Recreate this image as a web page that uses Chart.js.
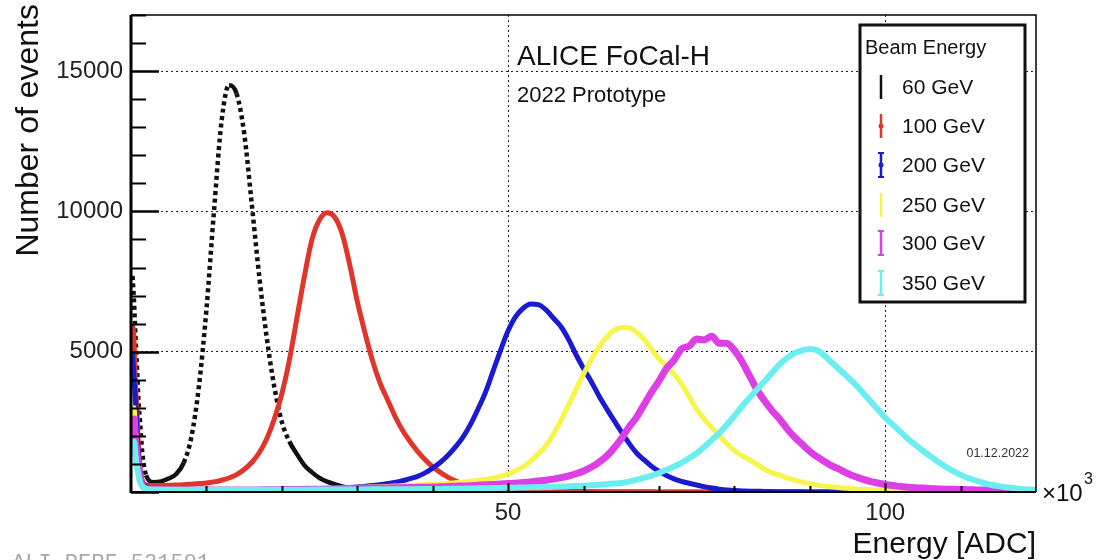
<!DOCTYPE html>
<html>
<head>
<meta charset="utf-8">
<script src="https://cdn.jsdelivr.net/npm/chart.js@4.4.1/dist/chart.umd.min.js"></script>
<style>
  html, body { margin: 0; padding: 0; background: #fff; }
  #wrap { position: relative; width: 1096px; height: 560px; }
  canvas { display: block; }
</style>
</head>
<body>
<div id="wrap"><canvas id="c" width="1096" height="560"></canvas></div>
<script>
// Bin centres, energy in units of 10^3 ADC counts
const energy = [
  0.2, 0.4, 0.6, 0.8, 1.0, 1.2, 1.5,
  2, 3, 4, 5, 6, 7, 8, 9,
  10, 11, 12, 13, 14, 15, 16, 17, 18, 19,
  20, 21, 22, 23, 24, 25, 26, 27, 28, 29,
  30, 31, 32, 33, 34, 35, 36, 37, 38, 39,
  40, 41, 42, 43, 44, 45, 46, 47, 48, 49,
  50, 51, 52, 53, 54, 55, 56, 57, 58, 59,
  60, 61, 62, 63, 64, 65, 66, 67, 68, 69,
  70, 71, 72, 73, 74, 75, 76, 77, 78, 79,
  80, 81, 82, 83, 84, 85, 86, 87, 88, 89,
  90, 91, 92, 93, 94, 95, 96, 97, 98, 99,
  100, 101, 102, 103, 104, 105, 106, 107, 108, 109,
  110, 111, 112, 113, 114, 115, 116, 117, 118, 119,
  120
];

// Events per bin for each beam energy
const ev60 = [
  7700, 6800, 5500, 4400, 3200, 2500, 1400,
  600, 350, 380, 480, 640, 1050, 1950, 3750,
  6500, 10000, 13200, 14500, 14200, 12800, 10300, 7700, 5500, 3750,
  2500, 1800, 1350, 950, 700, 500, 370, 280, 200, 150,
  100, 70, 50, 40, 30, 25, 20, 15, 10, 10,
  5, 5, 5, 5, 0, 0, 0, 0, 0, 0,
  0, 0, 0, 0, 0, 0, 0, 0, 0, 0,
  0, 0, 0, 0, 0, 0, 0, 0, 0, 0,
  0, 0, 0, 0, 0, 0, 0, 0, 0, 0,
  0, 0, 0, 0, 0, 0, 0, 0, 0, 0,
  0, 0, 0, 0, 0, 0, 0, 0, 0, 0,
  0, 0, 0, 0, 0, 0, 0, 0, 0, 0,
  0, 0, 0, 0, 0, 0, 0, 0, 0, 0,
  0
];
const ev100 = [
  6000, 5400, 3800, 2900, 1500, 800, 400,
  250, 230, 230, 240, 250, 260, 280, 300,
  320, 360, 420, 500, 620, 800, 1050, 1400, 1900, 2600,
  3500, 4700, 6200, 7700, 9000, 9700, 9950, 9800, 9200, 8100,
  6800, 5700, 4700, 3900, 3300, 2700, 2200, 1800, 1450, 1150,
  900, 700, 530, 400, 300, 230, 180, 140, 120, 100,
  90, 80, 70, 60, 50, 40, 30, 30, 20, 20,
  15, 15, 10, 10, 10, 10, 10, 5, 5, 5,
  0, 0, 0, 0, 0, 0, 0, 0, 0, 0,
  0, 0, 0, 0, 0, 0, 0, 0, 0, 0,
  0, 0, 0, 0, 0, 0, 0, 0, 0, 0,
  0, 0, 0, 0, 0, 0, 0, 0, 0, 0,
  0, 0, 0, 0, 0, 0, 0, 0, 0, 0,
  0
];
const ev200 = [
  5000, 4100, 3200, 2100, 1300, 700, 350,
  180, 110, 90, 80, 70, 70, 70, 70,
  70, 70, 70, 70, 70, 70, 75, 75, 80, 80,
  85, 90, 95, 100, 105, 110, 120, 130, 140, 160,
  180, 200, 230, 260, 300, 340, 400, 480, 560, 680,
  850, 1050, 1300, 1600, 1950, 2400, 2950, 3550, 4300, 5050,
  5750, 6250, 6550, 6700, 6680, 6500, 6200, 5900, 5450, 4900,
  4400, 3950, 3450, 3000, 2570, 2150, 1750, 1400, 1150, 920,
  740, 590, 470, 380, 310, 250, 190, 140, 100, 70,
  50, 40, 30, 25, 20, 15, 10, 10, 5, 5,
  0, 0, 0, 0, 0, 0, 0, 0, 0, 0,
  0, 0, 0, 0, 0, 0, 0, 0, 0, 0,
  0, 0, 0, 0, 0, 0, 0, 0, 0, 0,
  0
];
const ev250 = [
  2600, 3000, 2200, 1500, 1000, 600, 300,
  130, 90, 80, 70, 70, 70, 70, 70,
  70, 70, 70, 70, 70, 75, 75, 80, 80, 85,
  90, 95, 100, 105, 110, 115, 120, 130, 140, 150,
  160, 170, 180, 190, 200, 210, 220, 235, 250, 265,
  280, 295, 310, 330, 350, 380, 410, 450, 500, 560,
  640, 760, 900, 1100, 1350, 1650, 2050, 2550, 3100, 3650,
  4200, 4700, 5150, 5500, 5750, 5850, 5850, 5700, 5450, 5100,
  4750, 4500, 4200, 3850, 3400, 2950, 2600, 2300, 2000, 1720,
  1480, 1300, 1150, 980, 820, 680, 600, 500, 420, 350,
  290, 250, 210, 180, 150, 130, 110, 95, 85, 75,
  70, 65, 60, 55, 50, 45, 40, 35, 30, 30,
  25, 25, 20, 20, 20, 15, 15, 15, 10, 10,
  10
];
const ev300 = [
  2000, 2600, 1800, 1300, 900, 500, 250,
  120, 90, 80, 75, 70, 70, 70, 70,
  70, 70, 70, 70, 70, 70, 75, 75, 80, 80,
  85, 90, 90, 95, 100, 100, 105, 110, 115, 120,
  125, 130, 135, 140, 145, 150, 155, 160, 165, 170,
  175, 185, 195, 205, 215, 225, 240, 255, 270, 285,
  300, 315, 335, 360, 390, 420, 460, 510, 570, 650,
  750, 880, 1050, 1260, 1550, 1900, 2300, 2650, 3100, 3550,
  3950, 4400, 4700, 5100, 5200, 5450, 5420, 5550, 5300, 5300,
  5050, 4650, 4150, 3650, 3250, 2900, 2600, 2250, 1950, 1700,
  1450, 1250, 1080, 920, 800, 660, 550, 460, 380, 320,
  270, 230, 200, 170, 150, 140, 120, 110, 100, 95,
  90, 80, 75, 70, 65, 60, 55, 50, 45, 40,
  40
];
const ev350 = [
  1500, 1800, 1300, 900, 600, 350, 200,
  110, 90, 80, 80, 80, 80, 80, 80,
  80, 80, 80, 80, 80, 80, 80, 80, 80, 80,
  80, 80, 80, 80, 85, 85, 85, 85, 90, 90,
  90, 90, 95, 95, 95, 100, 100, 100, 105, 105,
  110, 110, 115, 115, 120, 125, 130, 135, 140, 145,
  150, 155, 160, 165, 170, 175, 185, 195, 205, 215,
  225, 240, 260, 280, 300, 320, 370, 430, 500, 580,
  680, 790, 910, 1040, 1200, 1380, 1600, 1850, 2100, 2400,
  2700, 3050, 3350, 3650, 3950, 4250, 4550, 4780, 4950, 5050,
  5100, 5050, 4850, 4600, 4350, 4100, 3850, 3550, 3250, 2950,
  2650, 2400, 2150, 1900, 1680, 1470, 1270, 1080, 900, 750,
  610, 500, 410, 330, 260, 210, 170, 140, 110, 90,
  80
];

const beamLabels = ['60 GeV', '100 GeV', '200 GeV', '250 GeV', '300 GeV', '350 GeV'];
const beamSeries = [ev60, ev100, ev200, ev250, ev300, ev350];
const beamColours = ['#111111', '#e0352b', '#1a1ad0', '#f5f54a', '#dd3fe4', '#6aeef0'];
const beamWidths = [4.5, 5, 5, 5, 7, 6];

const yTickValues = [5000, 10000, 15000];
const xTickValues = [50, 100];

const FONT = '"Liberation Sans", Arial, Helvetica, sans-serif';

const datasets = beamSeries.map((vals, i) => ({
  label: beamLabels[i],
  data: vals.map((v, k) => ({ x: energy[k], y: v })),
  borderColor: beamColours[i],
  backgroundColor: beamColours[i],
  borderWidth: beamWidths[i],
  pointRadius: 0,
  cubicInterpolationMode: 'monotone',
  fill: false,
  // later beams are painted over earlier ones
  order: beamSeries.length - 1 - i,
  segment: i === 0 ? {
    borderDash: c => Math.abs(c.p1.parsed.y - c.p0.parsed.y) > 600 ? [4, 3.5] : undefined
  } : undefined
}));

// Frame, inward ticks, legend box and labels
const framePlugin = {
  id: 'frame',
  afterDraw(chart) {
    const { ctx, chartArea: a, scales: { x, y } } = chart;
    ctx.save();
    ctx.strokeStyle = '#000';
    ctx.lineCap = 'butt';

    // plot frame
    ctx.lineWidth = 1.5;
    ctx.beginPath();
    ctx.moveTo(a.left, a.top); ctx.lineTo(a.right, a.top); ctx.lineTo(a.right, a.bottom);
    ctx.stroke();
    ctx.lineWidth = 2;
    ctx.beginPath(); ctx.moveTo(a.left, a.bottom); ctx.lineTo(a.right, a.bottom); ctx.stroke();
    ctx.lineWidth = 3;
    ctx.beginPath(); ctx.moveTo(a.left, a.top); ctx.lineTo(a.left, a.bottom + 1); ctx.stroke();

    // y ticks, pointing into the plot
    for (let v = 0; v <= 17000; v += 1000) {
      const py = Math.round(y.getPixelForValue(v)) + 0.5;
      const major = v % 5000 === 0;
      ctx.lineWidth = major ? 2.5 : 2;
      ctx.beginPath();
      ctx.moveTo(a.left, py);
      ctx.lineTo(a.left + (major ? 28 : 15), py);
      ctx.stroke();
    }
    // x ticks, pointing up from the axis
    for (let v = 10; v < 120; v += 10) {
      const px = Math.round(x.getPixelForValue(v)) + 0.5;
      const major = v % 50 === 0;
      ctx.lineWidth = 2;
      ctx.beginPath();
      ctx.moveTo(px, a.bottom);
      ctx.lineTo(px, a.bottom - (major ? 9 : 6));
      ctx.stroke();
    }

    // header text
    ctx.fillStyle = '#111';
    ctx.textAlign = 'left';
    ctx.textBaseline = 'alphabetic';
    ctx.font = '28px ' + FONT;
    ctx.fillText('ALICE FoCal-H', 517, 65);
    ctx.font = '22px ' + FONT;
    ctx.fillText('2022 Prototype', 517, 102);

    // legend
    const lx = 860, ly = 25, lw = 165, lh = 277;
    ctx.fillStyle = '#fff';
    ctx.fillRect(lx, ly, lw, lh);
    ctx.lineWidth = 3;
    ctx.strokeStyle = '#111';
    ctx.strokeRect(lx, ly, lw, lh);
    ctx.fillStyle = '#111';
    ctx.font = '20px ' + FONT;
    ctx.fillText('Beam Energy', 865, 54);
    const rows = [87, 126, 165, 205, 243, 283];
    ctx.font = '21px ' + FONT;
    ctx.textBaseline = 'middle';
    beamLabels.forEach((lab, i) => {
      const cy = rows[i];
      const mx = 881;
      ctx.strokeStyle = beamColours[i];
      ctx.lineWidth = 2.5;
      ctx.beginPath(); ctx.moveTo(mx, cy - 12); ctx.lineTo(mx, cy + 12); ctx.stroke();
      if (i >= 2 && i !== 3) {
        ctx.lineWidth = 2;
        ctx.beginPath();
        ctx.moveTo(mx - 3, cy - 12); ctx.lineTo(mx + 3, cy - 12);
        ctx.moveTo(mx - 3, cy + 12); ctx.lineTo(mx + 3, cy + 12);
        ctx.stroke();
      }
      if (i === 1 || i === 2) {
        ctx.fillStyle = beamColours[i];
        ctx.beginPath(); ctx.arc(mx, cy, 2.5, 0, Math.PI * 2); ctx.fill();
      }
      ctx.fillStyle = '#111';
      ctx.fillText(lab, 902, cy + 1);
    });

    // date stamp
    ctx.fillStyle = '#333';
    ctx.font = '12.5px ' + FONT;
    ctx.textAlign = 'right';
    ctx.fillText('01.12.2022', 1029, 454);

    // axis exponent
    ctx.textBaseline = 'alphabetic';
    ctx.textAlign = 'left';
    ctx.fillStyle = '#111';
    ctx.font = '24px ' + FONT;
    ctx.fillText('\u00d710', 1042, 501);
    ctx.font = '16px ' + FONT;
    ctx.fillText('3', 1084, 484);

    // axis titles
    ctx.font = '30px ' + FONT;
    ctx.textAlign = 'right';
    ctx.fillText('Energy [ADC]', 1036, 553);
    ctx.save();
    ctx.translate(38, 4);
    ctx.rotate(-Math.PI / 2);
    ctx.font = '32px ' + FONT;
    ctx.fillText('Number of events', 0, 0);
    ctx.restore();

    // figure identifier
    ctx.textAlign = 'left';
    ctx.fillStyle = '#a8a8a8';
    ctx.font = '22px "Liberation Mono", "DejaVu Sans Mono", monospace';
    ctx.fillText('ALI-PERF-531591', 12, 569);

    ctx.restore();
  }
};

new Chart(document.getElementById('c'), {
  type: 'line',
  data: { datasets },
  options: {
    responsive: false,
    animation: false,
    devicePixelRatio: 1,
    layout: { padding: { top: 15, right: 60, left: 0, bottom: 0 } },
    plugins: { legend: { display: false }, tooltip: { enabled: false } },
    scales: {
      x: {
        type: 'linear',
        min: 0,
        max: 120,
        afterBuildTicks: s => { s.ticks = xTickValues.map(v => ({ value: v })); },
        afterFit: s => { s.height = 68; s.paddingLeft = 0; s.paddingRight = 0; },
        ticks: {
          callback: v => String(v),
          font: { family: FONT, size: 24 },
          color: '#222',
          padding: 7,
          maxRotation: 0,
          autoSkip: false
        },
        grid: { drawTicks: false, color: '#222', lineWidth: 1 },
        border: { display: false, dash: [2, 3] }
      },
      y: {
        type: 'linear',
        min: 0,
        max: 17000,
        afterBuildTicks: s => { s.ticks = yTickValues.map(v => ({ value: v })); },
        afterFit: s => { s.width = 131; s.paddingTop = 0; s.paddingBottom = 0; },
        ticks: {
          callback: v => String(v),
          font: { family: FONT, size: 24 },
          color: '#222',
          padding: 8,
          autoSkip: false
        },
        grid: { drawTicks: false, color: '#222', lineWidth: 1 },
        border: { display: false, dash: [2, 3] }
      }
    }
  },
  plugins: [framePlugin]
});
</script>
</body>
</html>
